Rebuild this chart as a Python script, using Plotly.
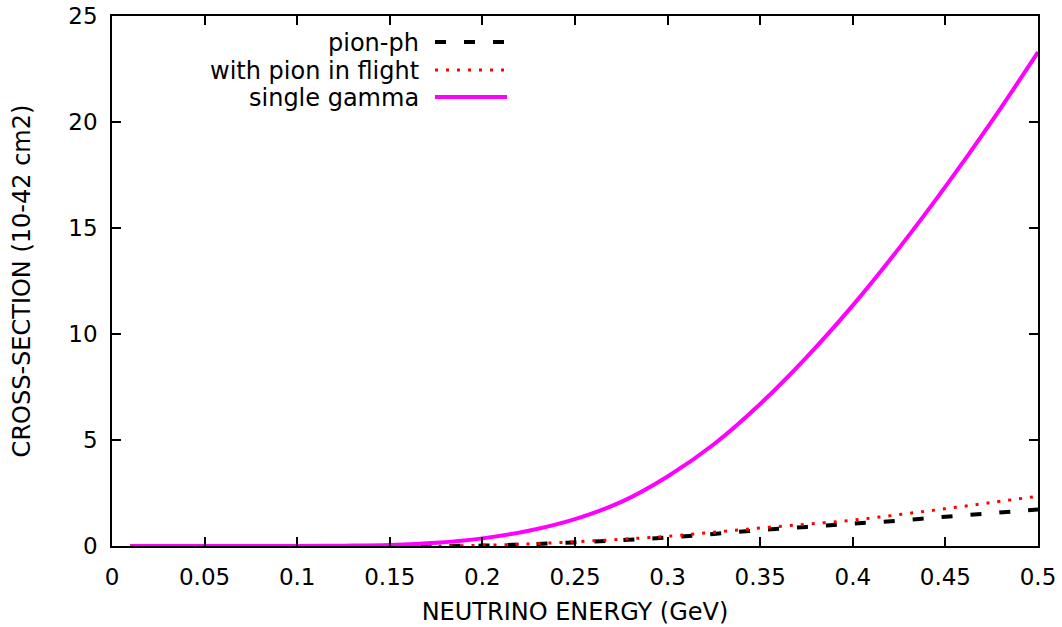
import plotly.graph_objects as go

energy = [0.01, 0.05, 0.1, 0.125, 0.15, 0.175, 0.2, 0.225, 0.25, 0.275, 0.3, 0.325,
          0.35, 0.375, 0.4, 0.425, 0.45, 0.475, 0.5]
pion_ph = [0.0, 0.0, 0.0, 0.0, 0.0, 0.0, 0.02, 0.08, 0.17, 0.28, 0.4, 0.57,
           0.75, 0.9, 1.05, 1.2, 1.38, 1.55, 1.72]
pion_flight = [0.0, 0.0, 0.0, 0.0, 0.0, 0.0, 0.03, 0.1, 0.2, 0.32, 0.46, 0.65,
               0.85, 1.03, 1.22, 1.48, 1.76, 2.05, 2.35]
single_gamma = [0.0, 0.0, 0.0, 0.015, 0.05, 0.15, 0.36, 0.72, 1.27, 2.08, 3.28, 4.8,
                6.7, 8.9, 11.35, 14.05, 16.95, 20.03, 23.3]

series_names = ["pion-ph", "with pion in flight", "single gamma"]

FONT = "DejaVu Sans"
TICK_SIZE = 23
TEXT_SIZE = 24

line_styles = [dict(color="black", width=4, dash="11px,18px"),
               dict(color="red", width=3, dash="3px,8px"),
               dict(color="magenta", width=4)]

fig = go.Figure()
for name, ys, st in zip(series_names, [pion_ph, pion_flight, single_gamma], line_styles):
    fig.add_trace(go.Scatter(x=energy, y=ys, mode="lines", name=name,
                             line=dict(st, shape="spline", smoothing=1.0)))

W, H = 1062, 627
ml, mr, mt, mb = 112, 24, 16, 81
pw, ph = W - ml - mr, H - mt - mb

# manual legend (text right-aligned, sample line to the right, gnuplot style)
legend_y = [42, 70, 97]
annotations = []
shapes = []
for name, yy, st in zip(series_names, legend_y, line_styles):
    yp = 1 - (yy - mt) / ph
    annotations.append(dict(x=(418 - ml) / pw, y=yp, xref="paper", yref="paper",
                            text=name, showarrow=False, xanchor="right", yanchor="middle",
                            xshift=3, yshift=-1,
                            font=dict(family=FONT, size=TEXT_SIZE, color="black")))
    shapes.append(dict(type="line", xref="paper", yref="paper",
                       x0=(435 - ml) / pw, x1=(507 - ml) / pw, y0=yp, y1=yp,
                       line=st))

axis_common = dict(showline=True, linecolor="black", linewidth=1.5, mirror="ticks",
                   ticks="inside", ticklen=9, tickcolor="black", tickwidth=1.5,
                   showgrid=False, zeroline=False, automargin=False,
                   ticklabeloverflow="allow",
                   tickfont=dict(family=FONT, size=TICK_SIZE, color="black"))

fig.update_layout(
    width=W, height=H,
    margin=dict(l=ml, r=mr, t=mt, b=mb),
    paper_bgcolor="white", plot_bgcolor="white",
    showlegend=False,
    annotations=annotations, shapes=shapes,
    xaxis=dict(range=[0, 0.5], tickvals=[0, 0.05, 0.1, 0.15, 0.2, 0.25, 0.3, 0.35, 0.4, 0.45, 0.5],
               ticktext=["0", "0.05", "0.1", "0.15", "0.2", "0.25", "0.3", "0.35", "0.4", "0.45", "0.5"],
               title=dict(text="NEUTRINO ENERGY (GeV)", font=dict(family=FONT, size=TEXT_SIZE, color="black"),
                          standoff=14),
               ticklabelstandoff=10,
               **axis_common),
    yaxis=dict(range=[0, 25], dtick=5,
               title=dict(text="CROSS-SECTION (10-42 cm2)", font=dict(family=FONT, size=TEXT_SIZE, color="black"),
                          standoff=31),
               ticklabelstandoff=8,
               **axis_common),
)

# remove the default 8px page margin so the figure fills the window exactly
fig.write_html("out.html",
               config={"displayModeBar": False},
               post_script="document.body.style.margin='0';document.body.style.overflow='hidden';")
